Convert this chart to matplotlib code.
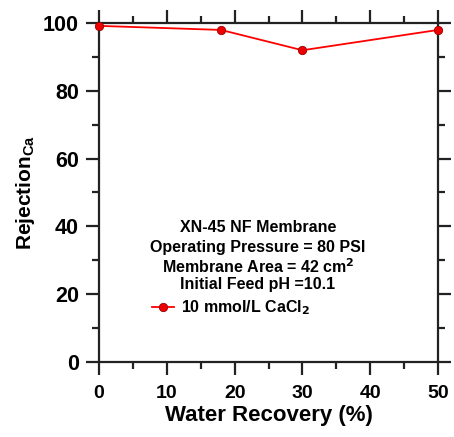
import matplotlib
matplotlib.use("Agg")
import matplotlib.pyplot as plt

plt.rcParams['font.family'] = ['Liberation Sans', 'DejaVu Sans']
plt.rcParams['font.weight'] = 'bold'
plt.rcParams['mathtext.default'] = 'regular'

# water recovery (%) vs Ca rejection
recovery = [0, 18, 30, 50]
rejection = [99.2, 98, 92, 98]

info_lines = ["XN-45 NF Membrane",
              "Operating Pressure = 80 PSI",
              r"Membrane Area = 42 cm$^{\mathbf{2}}$",
              "Initial Feed pH =10.1"]

fig = plt.figure(figsize=(4.54, 4.37), dpi=100)
ax = fig.add_axes([0.218, 0.172, 0.747, 0.775])

ax.plot(recovery, rejection, '-o', color='#ff0000', lw=1.3,
        markersize=6, markerfacecolor='#ee0000', markeredgecolor='#990000',
        markeredgewidth=0.6, label=r"10 mmol/L CaCl$_{\mathbf{2}}$", clip_on=False, zorder=3)

ax.set_xlim(0, 50)
ax.set_ylim(0, 100)
ax.set_xticks(range(0, 51, 10))
ax.set_xticks(range(5, 50, 10), minor=True)
ax.set_yticks(range(0, 101, 20))
ax.set_yticks(range(10, 100, 20), minor=True)

for s in ax.spines.values():
    s.set_linewidth(1.6)
    s.set_color('#222222')
ax.tick_params(which='both', direction='out', top=True, right=True,
               width=1.6, color='#222222')
ax.tick_params(which='major', length=9.5)
ax.tick_params(which='minor', length=5)
ax.tick_params(axis='x', which='major', labelsize=14, pad=7)
ax.tick_params(axis='y', which='major', labelsize=15.5, pad=5)

ax.set_xlabel("Water Recovery (%)", fontsize=16, fontweight='bold', labelpad=2)
ax.set_ylabel(r"Rejection$_{Ca}$", fontsize=15, fontweight='bold', labelpad=4)

ys = [0.398, 0.339, 0.280, 0.227]
for t, y in zip(info_lines, ys):
    ax.text(0.469, y, t, transform=ax.transAxes, ha='center', va='center',
            fontsize=11.5, fontweight='bold')

ax.legend(loc='center left', bbox_to_anchor=(0.156, 0.159), frameon=False,
          fontsize=11.5, borderpad=0, borderaxespad=0, handlelength=1.4,
          handletextpad=0.45)

fig.savefig("out.png", dpi=100)
